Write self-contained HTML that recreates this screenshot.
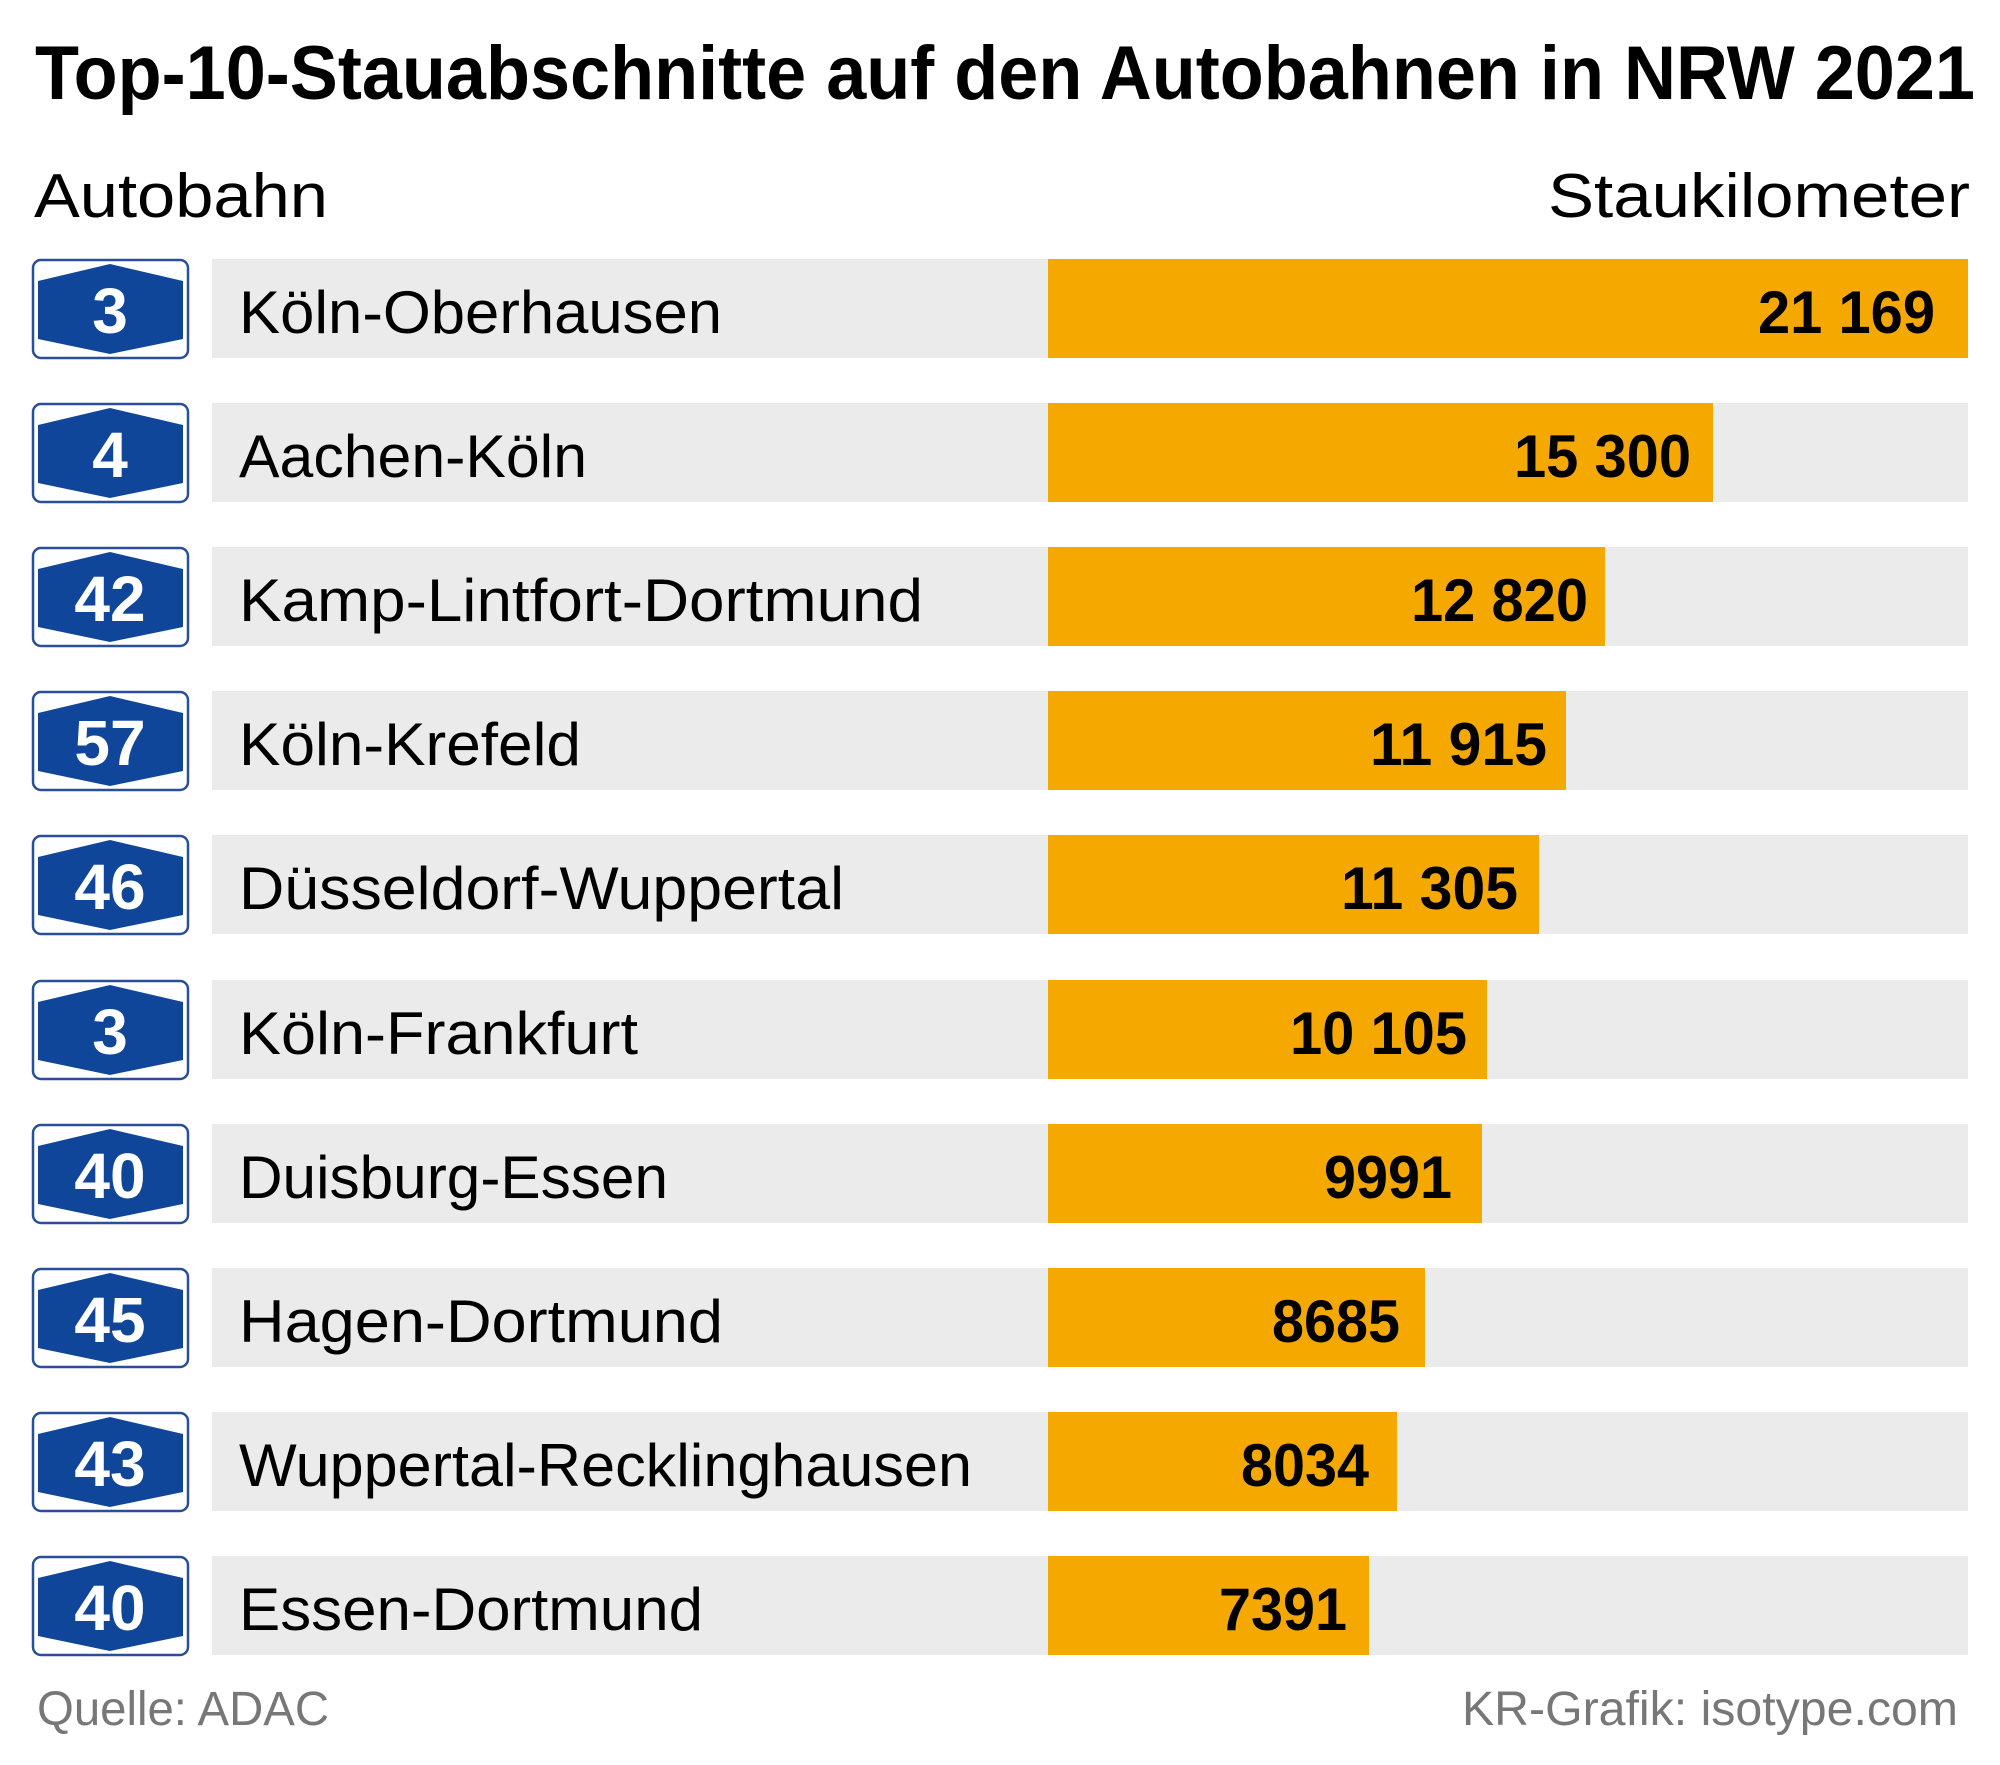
<!DOCTYPE html>
<html><head><meta charset="utf-8"><style>
html,body{margin:0;padding:0;background:#fff;}
svg{display:block;}
</style></head><body>
<svg width="2000" height="1765" viewBox="0 0 2000 1765" xmlns="http://www.w3.org/2000/svg" font-family="Liberation Sans, sans-serif">
<rect width="2000" height="1765" fill="#fff"/>
<text x="35" y="99" font-size="76" font-weight="bold" textLength="1940" lengthAdjust="spacingAndGlyphs">Top-10-Stauabschnitte auf den Autobahnen in NRW 2021</text>
<text x="34" y="217" font-size="62" textLength="294" lengthAdjust="spacingAndGlyphs">Autobahn</text>
<text x="1970" y="217" font-size="62" text-anchor="end" textLength="422" lengthAdjust="spacingAndGlyphs">Staukilometer</text>
<defs>
<g id="sign">
<rect x="33" y="1" width="155" height="98" rx="8" fill="#fff" stroke="#2a4f9a" stroke-width="2.5"/>
<polygon points="38,22 110,5 183,22 183,80 110,95 38,80" fill="#10469a"/>
</g>
</defs>
<g font-size="60">
<!-- rows -->
<g transform="translate(0,259)"><use href="#sign"/><rect x="212" y="0" width="1756" height="99" fill="#ebebeb"/><rect x="1048" y="0" width="920" height="99" fill="#f4a800"/><text x="110" y="74" fill="#fff" font-weight="bold" font-size="64" text-anchor="middle">3</text><text x="239" y="74" textLength="483" lengthAdjust="spacingAndGlyphs">Köln-Oberhausen</text><text x="1935" y="74" font-weight="bold" text-anchor="end" textLength="177" lengthAdjust="spacingAndGlyphs">21 169</text></g>
<g transform="translate(0,403)"><use href="#sign"/><rect x="212" y="0" width="1756" height="99" fill="#ebebeb"/><rect x="1048" y="0" width="665" height="99" fill="#f4a800"/><text x="110" y="74" fill="#fff" font-weight="bold" font-size="64" text-anchor="middle">4</text><text x="239" y="74" textLength="348" lengthAdjust="spacingAndGlyphs">Aachen-Köln</text><text x="1691" y="74" font-weight="bold" text-anchor="end" textLength="177" lengthAdjust="spacingAndGlyphs">15 300</text></g>
<g transform="translate(0,547)"><use href="#sign"/><rect x="212" y="0" width="1756" height="99" fill="#ebebeb"/><rect x="1048" y="0" width="557" height="99" fill="#f4a800"/><text x="110" y="74" fill="#fff" font-weight="bold" font-size="64" text-anchor="middle">42</text><text x="239" y="74" textLength="684" lengthAdjust="spacingAndGlyphs">Kamp-Lintfort-Dortmund</text><text x="1588" y="74" font-weight="bold" text-anchor="end" textLength="177" lengthAdjust="spacingAndGlyphs">12 820</text></g>
<g transform="translate(0,691)"><use href="#sign"/><rect x="212" y="0" width="1756" height="99" fill="#ebebeb"/><rect x="1048" y="0" width="518" height="99" fill="#f4a800"/><text x="110" y="74" fill="#fff" font-weight="bold" font-size="64" text-anchor="middle">57</text><text x="239" y="74" textLength="342" lengthAdjust="spacingAndGlyphs">Köln-Krefeld</text><text x="1547" y="74" font-weight="bold" text-anchor="end" textLength="177" lengthAdjust="spacingAndGlyphs">11 915</text></g>
<g transform="translate(0,835)"><use href="#sign"/><rect x="212" y="0" width="1756" height="99" fill="#ebebeb"/><rect x="1048" y="0" width="491" height="99" fill="#f4a800"/><text x="110" y="74" fill="#fff" font-weight="bold" font-size="64" text-anchor="middle">46</text><text x="239" y="74" textLength="605" lengthAdjust="spacingAndGlyphs">Düsseldorf-Wuppertal</text><text x="1518" y="74" font-weight="bold" text-anchor="end" textLength="177" lengthAdjust="spacingAndGlyphs">11 305</text></g>
<g transform="translate(0,980)"><use href="#sign"/><rect x="212" y="0" width="1756" height="99" fill="#ebebeb"/><rect x="1048" y="0" width="439" height="99" fill="#f4a800"/><text x="110" y="74" fill="#fff" font-weight="bold" font-size="64" text-anchor="middle">3</text><text x="239" y="74" textLength="399" lengthAdjust="spacingAndGlyphs">Köln-Frankfurt</text><text x="1467" y="74" font-weight="bold" text-anchor="end" textLength="177" lengthAdjust="spacingAndGlyphs">10 105</text></g>
<g transform="translate(0,1124)"><use href="#sign"/><rect x="212" y="0" width="1756" height="99" fill="#ebebeb"/><rect x="1048" y="0" width="434" height="99" fill="#f4a800"/><text x="110" y="74" fill="#fff" font-weight="bold" font-size="64" text-anchor="middle">40</text><text x="239" y="74" textLength="429" lengthAdjust="spacingAndGlyphs">Duisburg-Essen</text><text x="1452" y="74" font-weight="bold" text-anchor="end" textLength="128" lengthAdjust="spacingAndGlyphs">9991</text></g>
<g transform="translate(0,1268)"><use href="#sign"/><rect x="212" y="0" width="1756" height="99" fill="#ebebeb"/><rect x="1048" y="0" width="377" height="99" fill="#f4a800"/><text x="110" y="74" fill="#fff" font-weight="bold" font-size="64" text-anchor="middle">45</text><text x="239" y="74" textLength="484" lengthAdjust="spacingAndGlyphs">Hagen-Dortmund</text><text x="1400" y="74" font-weight="bold" text-anchor="end" textLength="128" lengthAdjust="spacingAndGlyphs">8685</text></g>
<g transform="translate(0,1412)"><use href="#sign"/><rect x="212" y="0" width="1756" height="99" fill="#ebebeb"/><rect x="1048" y="0" width="349" height="99" fill="#f4a800"/><text x="110" y="74" fill="#fff" font-weight="bold" font-size="64" text-anchor="middle">43</text><text x="239" y="74" textLength="733" lengthAdjust="spacingAndGlyphs">Wuppertal-Recklinghausen</text><text x="1369" y="74" font-weight="bold" text-anchor="end" textLength="128" lengthAdjust="spacingAndGlyphs">8034</text></g>
<g transform="translate(0,1556)"><use href="#sign"/><rect x="212" y="0" width="1756" height="99" fill="#ebebeb"/><rect x="1048" y="0" width="321" height="99" fill="#f4a800"/><text x="110" y="74" fill="#fff" font-weight="bold" font-size="64" text-anchor="middle">40</text><text x="239" y="74" textLength="464" lengthAdjust="spacingAndGlyphs">Essen-Dortmund</text><text x="1347" y="74" font-weight="bold" text-anchor="end" textLength="128" lengthAdjust="spacingAndGlyphs">7391</text></g>
</g>
<text x="37" y="1725" font-size="48" fill="#777" textLength="292" lengthAdjust="spacingAndGlyphs">Quelle: ADAC</text>
<text x="1958" y="1725" font-size="48" fill="#777" text-anchor="end" textLength="496" lengthAdjust="spacingAndGlyphs">KR-Grafik: isotype.com</text>
</svg>
</body></html>
